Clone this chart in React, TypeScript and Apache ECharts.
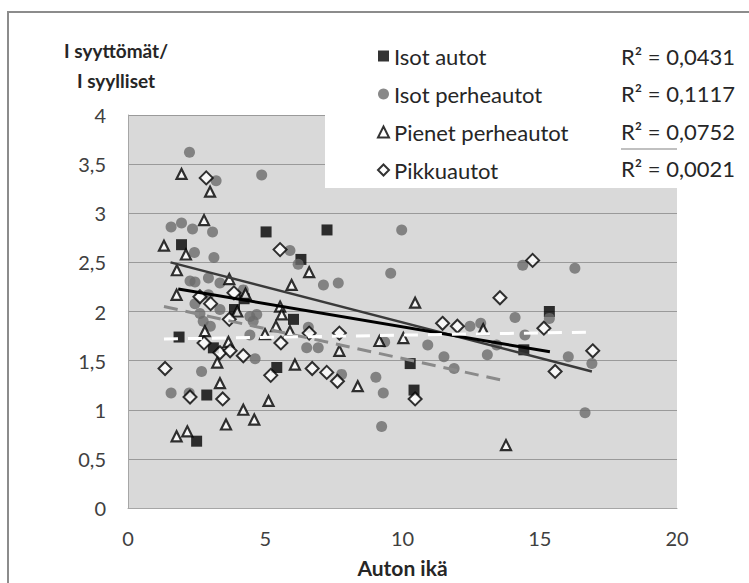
import React, { useEffect, useRef } from "react";
import * as echarts from "echarts";

const seriesNames = ["Isot autot", "Isot perheautot", "Pienet perheautot", "Pikkuautot"];
const rSquared = ["R² = 0,0431", "R² = 0,1117", "R² = 0,0752", "R² = 0,0021"];
const yTitleLines = ["I syyttömät/", "I syylliset"];
const xTitle = "Auton ikä";

const isotAutot = [
  [1.95, 2.68], [1.86, 1.74], [2.5, 0.68], [2.87, 1.15], [3.11, 1.63], [3.88, 2.02],
  [4.23, 2.13], [5.03, 2.81], [5.42, 1.43], [6.03, 1.92], [6.3, 2.53], [7.25, 2.83],
  [10.28, 1.47], [10.42, 1.2], [14.42, 1.61], [15.35, 2.0],
];

const isotPerheautot = [
  [2.24, 3.62], [4.87, 3.39], [3.21, 3.33], [1.57, 2.86], [1.95, 2.9], [2.35, 2.84],
  [3.08, 2.81], [2.42, 2.6], [3.13, 2.55], [2.26, 2.31], [2.44, 2.3], [2.93, 2.34],
  [3.35, 2.29], [2.93, 2.17], [2.44, 2.08], [2.62, 1.98], [2.74, 1.9], [3.0, 1.85],
  [3.35, 2.02], [4.2, 2.22], [4.44, 1.95], [4.69, 1.97], [4.56, 1.9], [4.44, 1.76],
  [4.63, 1.52], [2.68, 1.39], [1.57, 1.17], [2.23, 1.17], [5.9, 2.62], [6.2, 2.48],
  [6.57, 1.84], [6.51, 1.63], [6.93, 1.63], [7.12, 2.27], [7.66, 2.29], [7.78, 1.36],
  [9.03, 1.33], [9.3, 1.17], [9.24, 0.83], [9.35, 1.69], [9.57, 2.39], [9.97, 2.83],
  [10.92, 1.66], [11.51, 1.54], [11.88, 1.42], [12.46, 1.85], [12.85, 1.88], [13.09, 1.56],
  [13.43, 1.66], [14.1, 1.94], [14.38, 2.47], [14.46, 1.76], [15.35, 1.93], [16.04, 1.54],
  [16.28, 2.44], [16.65, 0.97], [16.9, 1.47],
];

const pienetPerheautot = [
  [1.31, 2.67], [1.95, 3.4], [2.99, 3.22], [2.77, 2.93], [1.78, 2.42], [2.11, 2.58],
  [1.77, 2.17], [2.8, 1.8], [3.69, 2.33], [4.28, 2.18], [3.98, 2.0], [3.66, 1.69],
  [3.25, 1.48], [3.35, 1.27], [3.57, 0.85], [4.2, 1.0], [4.6, 0.9], [5.12, 1.09],
  [1.77, 0.73], [2.16, 0.78], [4.99, 1.77], [5.39, 1.85], [5.54, 2.05], [5.6, 1.97],
  [5.96, 2.27], [5.9, 1.8], [6.08, 1.46], [6.6, 2.4], [7.7, 1.6], [8.37, 1.24],
  [9.16, 1.7], [10.03, 1.73], [10.46, 2.09], [12.94, 1.82], [13.77, 0.64],
];

const pikkuautot = [
  [2.85, 3.36], [1.35, 1.42], [2.26, 1.13], [2.62, 2.15], [3.01, 2.08], [2.77, 1.68],
  [3.35, 1.58], [3.72, 1.6], [3.69, 1.92], [3.86, 2.19], [4.2, 1.55], [3.45, 1.11],
  [5.2, 1.35], [5.54, 2.63], [5.57, 1.68], [6.6, 1.78], [6.71, 1.42], [7.24, 1.38],
  [7.63, 1.29], [7.7, 1.78], [10.46, 1.11], [11.46, 1.88], [12.0, 1.85], [13.55, 2.14],
  [14.74, 2.52], [15.15, 1.83], [15.56, 1.39], [16.93, 1.6],
];

const trendIsotAutot = [[1.83, 2.23], [15.37, 1.59]];
const trendIsotPerheautot = [[1.55, 2.5], [16.9, 1.39]];
const trendPienetPerheautot = [[1.31, 2.05], [13.8, 1.29]];
const trendPikkuautot = [[1.31, 1.72], [16.76, 1.79]];

const FONT = "Lato, 'Open Sans', sans-serif";

export default function App() {
  const ref = useRef<HTMLDivElement>(null);

  useEffect(() => {
    if (!ref.current) return;
    const chart = echarts.init(ref.current, null, { renderer: "svg" });

    const scatterBase = { type: "scatter", z: 3 };
    const trend = (data: number[][], color: string, width: number, type: any) => ({
      type: "line",
      data,
      symbol: "none",
      silent: true,
      z: 5,
      lineStyle: { color, width, type },
    });

    const rowY = [56, 93, 131, 168];

    const option: any = {
      animation: false,
      backgroundColor: "#ffffff",
      textStyle: { fontFamily: FONT },
      grid: {
        left: 128,
        top: 115,
        width: 549,
        height: 400,
        show: true,
        backgroundColor: "#d9d9d9",
        borderWidth: 0,
      },
      xAxis: {
        type: "value",
        min: 0,
        max: 20,
        interval: 5,
        name: xTitle,
        nameLocation: "middle",
        nameGap: 49,
        nameTextStyle: { fontFamily: FONT, fontSize: 21, fontWeight: "bold", color: "#262626" },
        axisLine: { show: true, lineStyle: { color: "#a6a6a6", width: 1 } },
        axisTick: { show: false },
        splitLine: { show: false },
        axisLabel: { fontFamily: FONT, fontSize: 20, color: "#404040", margin: 20 },
      },
      yAxis: {
        type: "value",
        min: 0,
        max: 4,
        interval: 0.5,
        axisLine: { show: true, lineStyle: { color: "#a6a6a6", width: 1 } },
        axisTick: { show: false },
        splitLine: { show: true, lineStyle: { color: "#9a9a9a", width: 1.2 } },
        axisLabel: {
          fontFamily: FONT,
          fontSize: 20,
          color: "#404040",
          margin: 22,
          formatter: (v: number) => String(v).replace(".", ","),
        },
      },
      legend: {
        orient: "vertical",
        left: 372,
        top: 40,
        itemWidth: 11,
        itemHeight: 11,
        itemGap: 16,
        data: seriesNames,
        selectedMode: false,
        textStyle: { fontFamily: FONT, fontSize: 22, color: "#262626", lineHeight: 21.5 },
      },
      graphic: [
        {
          type: "rect",
          z: 1,
          shape: { x: 325, y: 100, width: 430, height: 88 },
          style: { fill: "#ffffff" },
          silent: true,
        },
        {
          type: "rect",
          z: 10,
          shape: { x: 8, y: 12, width: 800, height: 700 },
          style: { fill: "none", stroke: "#8c8c8c", lineWidth: 2 },
          silent: true,
        },
        {
          type: "line",
          z: 10,
          shape: { x1: 621, y1: 149, x2: 677, y2: 149 },
          style: { stroke: "#c0c0c0", lineWidth: 2 },
          silent: true,
        },
        ...rSquared.map((t, i) => ({
          type: "text",
          z: 10,
          x: 621,
          y: rowY[i],
          style: {
            text: t,
            fontFamily: FONT,
            fontSize: 22,
            fill: "#262626",
            align: "left",
            verticalAlign: "middle",
            textAlign: "left",
            textVerticalAlign: "middle",
          },
          silent: true,
        })),
        ...yTitleLines.map((t, i) => ({
          type: "text",
          z: 10,
          x: 116,
          y: i === 0 ? 50 : 80,
          style: {
            text: t,
            fontFamily: FONT,
            fontSize: 19,
            fontWeight: "bold",
            fill: "#262626",
            align: "center",
            verticalAlign: "middle",
            textAlign: "center",
            textVerticalAlign: "middle",
          },
          silent: true,
        })),
      ],
      series: [
        {
          ...scatterBase,
          name: seriesNames[0],
          data: isotAutot,
          symbol: "rect",
          symbolSize: 11,
          itemStyle: { color: "#000000" },
        },
        {
          ...scatterBase,
          name: seriesNames[1],
          data: isotPerheautot,
          symbol: "circle",
          symbolSize: 11,
          itemStyle: { color: "#6b6b6b" },
        },
        {
          ...scatterBase,
          name: seriesNames[2],
          data: pienetPerheautot,
          symbol: "triangle",
          symbolSize: 10,
          itemStyle: { color: "#ffffff", borderColor: "#000000", borderWidth: 2.2 },
        },
        {
          ...scatterBase,
          name: seriesNames[3],
          data: pikkuautot,
          symbol: "diamond",
          symbolSize: 13,
          itemStyle: { color: "#ffffff", borderColor: "#000000", borderWidth: 2 },
        },
        trend(trendIsotPerheautot, "#3a3a3a", 2.5, "solid"),
        trend(trendIsotAutot, "#000000", 3, "solid"),
        trend(trendPienetPerheautot, "#8a8a8a", 3, [14, 8]),
        trend(trendPikkuautot, "#ffffff", 3, [14, 10]),
      ],
    };

    chart.setOption(option);
    return () => chart.dispose();
  }, []);

  return (
    <div
      ref={ref}
      style={{ position: "fixed", left: 0, top: 0, width: 749, height: 583 }}
    />
  );
}
